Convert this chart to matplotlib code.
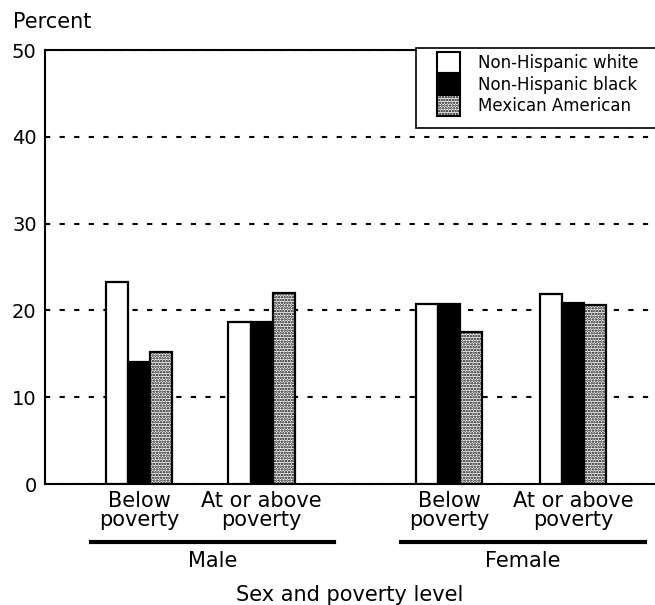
import matplotlib.pyplot as plt
from matplotlib.lines import Line2D
from matplotlib.patches import Patch, Rectangle

plt.rcParams["font.family"] = ["DejaVu Sans"]
plt.rcParams["hatch.linewidth"] = 1.2

# data
groups = ["Male", "Female"]
levels = ["Below\npoverty", "At or above\npoverty"]
series = ["Non-Hispanic white", "Non-Hispanic black", "Mexican American"]
white = [23.3, 18.7, 20.7, 21.9]
black = [14.0, 18.7, 20.7, 20.8]
mexican = [15.2, 22.0, 17.5, 20.6]

# x positions of the four clusters (male below, male above, female below, female above)
pos = [0.0, 1.0, 2.53, 3.54]
width = 0.18

fig = plt.figure(figsize=(6.55, 6.05), dpi=100)
ax = fig.add_axes([45 / 655, 1 - 484 / 605, 610 / 655, 434 / 605])

styles = [
    dict(facecolor="white", edgecolor="black"),
    dict(facecolor="black", edgecolor="black"),
    dict(facecolor="white", edgecolor="black", hatch="......"),
]
for k, (vals, st) in enumerate(zip([white, black, mexican], styles)):
    xs = [p + (k - 1) * width for p in pos]
    ax.bar(xs, vals, width=width, linewidth=1.6, zorder=3, **st)

ax.set_xlim(-0.767, 4.21)
ax.set_ylim(0, 50)
ax.set_yticks(range(0, 51, 10))
ax.set_xticks([])
ax.tick_params(axis="y", length=0, pad=6, labelsize=14)
ax.yaxis.grid(True, color="black", linestyle=(0, (2.5, 4.5)), linewidth=1.5)
ax.set_axisbelow(True)
ax.spines["right"].set_visible(False)
for s in ["left", "bottom", "top"]:
    ax.spines[s].set_linewidth(1.5)

# level labels under each cluster
for i, p in enumerate(pos):
    ax.text(p, -0.016, levels[i % 2], transform=ax.get_xaxis_transform(),
            ha="center", va="top", fontsize=15, linespacing=0.95)

# group underline + group name
for g, name in enumerate(groups):
    x0 = pos[2 * g] - 0.39
    x1 = pos[2 * g + 1] + 0.59
    ax.add_line(Line2D([x0, x1], [-0.134, -0.134], color="black", linewidth=3,
                       transform=ax.get_xaxis_transform(), clip_on=False))
    ax.text((x0 + x1) / 2, -0.178, name, transform=ax.get_xaxis_transform(),
            ha="center", va="center", fontsize=15)

ax.text(0.5, -0.256, "Sex and poverty level", transform=ax.transAxes,
        ha="center", va="center", fontsize=15)
fig.text(13 / 655, 1 - 22 / 605, "Percent", ha="left", va="center", fontsize=15)

# legend
ax.add_patch(Rectangle(((416 - 45) / 610, (484 - 128) / 434), 0.5, 80 / 434,
                       transform=ax.transAxes, facecolor="white", edgecolor="black",
                       linewidth=1.2, clip_on=False, zorder=4))
handles = [Patch(linewidth=1.5, **st) for st in styles]
leg = ax.legend(handles, series, loc="upper left",
                bbox_to_anchor=((437 - 45) / 610, (484 - 52) / 434),
                frameon=False, fontsize=12, borderpad=0, borderaxespad=0,
                handlelength=1.38, handleheight=1.6, labelspacing=0,
                handletextpad=1.08)
leg.set_zorder(5)

fig.savefig("out.png", dpi=100)
